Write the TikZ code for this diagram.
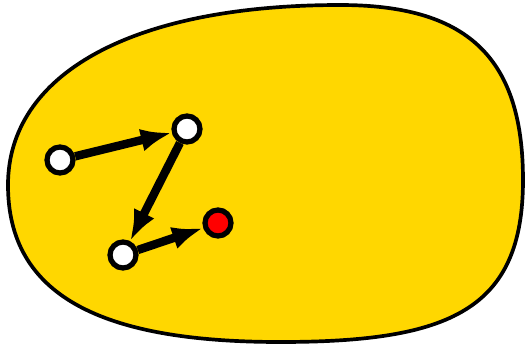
\documentclass[tikz,border=0pt]{standalone}
\usepackage{tikz}
\usetikzlibrary{arrows.meta}
\definecolor{blobgold}{HTML}{FFD700}
\definecolor{endred}{HTML}{FF0000}
\tikzset{
  x=0.02cm, y=-0.02cm,
  blob/.style={draw=black, fill=blobgold, line width=2.1pt},
  pt/.style={
    circle, draw=black, fill=#1, line width=3pt,
    minimum size=0.52cm, inner sep=0pt
  },
  pt/.default=white,
  hop/.style={-{Latex[length=0.62cm,width=0.46cm]}, line width=4.8pt, draw=black}
}
\begin{document}
\begin{tikzpicture}
  \useasboundingbox (0,0) rectangle (525,345);
  % the region
  \draw[blob] (8,185) .. controls (8,75) and (130,5) .. (340,5)
    .. controls (465,5) and (523,55) .. (523,180)
    .. controls (523,310) and (450,342) .. (280,342)
    .. controls (100,342) and (8,295) .. cycle;
  % the walk
  \node[pt] (a) at (60,160) {};
  \node[pt] (b) at (187,129) {};
  \node[pt] (c) at (123,255) {};
  \node[pt=endred] (d) at (218,223) {};
  \draw[hop] (a) -- (b);
  \draw[hop] (b) -- (c);
  \draw[hop] (c) -- (d);
\end{tikzpicture}
\end{document}
